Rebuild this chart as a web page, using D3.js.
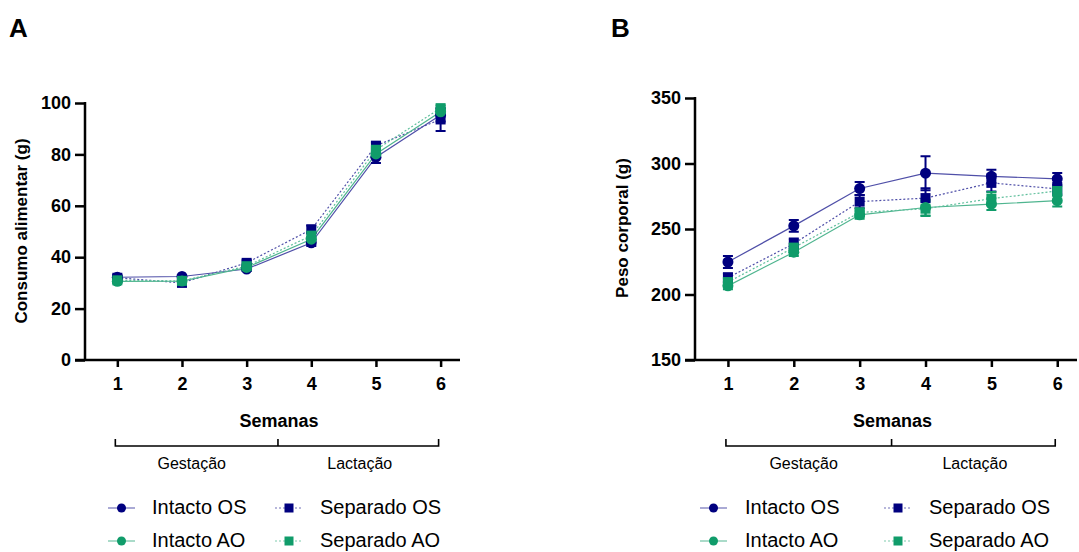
<!DOCTYPE html>
<html>
<head>
<meta charset="utf-8">
<script src="https://cdn.jsdelivr.net/npm/d3@7"></script>
<style>
  body { margin: 0; background: #fff; }
  svg { font-family: "Liberation Sans", Arial, sans-serif; }
</style>
</head>
<body>
<svg width="1079" height="552"></svg>
<script>
const weeks = [1, 2, 3, 4, 5, 6];
const seriesNames = ["Intacto OS", "Separado OS", "Intacto AO", "Separado AO"];

// Consumo alimentar (g): mean and SEM
const consumoIntactoOS = [32.2, 32.5, 35.4, 45.6, 78.9, 95.3];
const consumoIntactoOSErr = [0.8, 0.6, 0.8, 1.2, 2.2, 2.5];
const consumoSeparadoOS = [32.0, 30.0, 37.8, 50.8, 83.4, 93.6];
const consumoSeparadoOSErr = [0.8, 0.8, 1.0, 1.5, 1.2, 4.5];
const consumoIntactoAO = [30.6, 30.7, 36.0, 47.0, 80.2, 96.6];
const consumoIntactoAOErr = [0.6, 0.7, 0.8, 1.0, 1.2, 1.2];
const consumoSeparadoAO = [31.0, 30.8, 36.5, 48.4, 81.8, 98.0];
const consumoSeparadoAOErr = [0.6, 0.7, 0.8, 1.0, 1.2, 1.0];

// Peso corporal (g): mean and SEM
const pesoIntactoOS = [224.8, 252.4, 280.9, 292.6, 290.2, 288.3];
const pesoIntactoOSErr = [4.5, 4.5, 5.0, 13.0, 5.0, 4.5];
const pesoSeparadoOS = [212.8, 238.8, 270.9, 273.6, 285.2, 280.6];
const pesoSeparadoOSErr = [3.5, 4.0, 5.0, 7.5, 6.5, 4.5];
const pesoIntactoAO = [206.6, 232.3, 260.8, 266.4, 269.0, 271.6];
const pesoIntactoAOErr = [2.5, 3.0, 3.0, 6.0, 4.5, 4.5];
const pesoSeparadoAO = [209.5, 235.8, 262.6, 265.5, 273.2, 279.0];
const pesoSeparadoAOErr = [3.0, 3.0, 3.0, 5.5, 5.0, 4.0];

const yTicksA = [0, 20, 40, 60, 80, 100];
const yTicksB = [150, 200, 250, 300, 350];

const navy = "#00007f";
const green = "#109c6a";
const styles = {
  "Intacto OS": { color: navy, line: "#4f4fa8", shape: "circle", dash: null },
  "Separado OS": { color: navy, line: "#4f4fa8", shape: "square", dash: "2,2" },
  "Intacto AO": { color: green, line: "#4fb58f", shape: "circle", dash: null },
  "Separado AO": { color: green, line: "#5fbf9c", shape: "square", dash: "2,2" }
};

const svg = d3.select("svg");

function drawMarker(g, shape, cx, cy, color, size) {
  if (shape === "circle") {
    g.append("circle").attr("cx", cx).attr("cy", cy).attr("r", size / 2).attr("fill", color);
  } else {
    g.append("rect").attr("x", cx - size / 2).attr("y", cy - size / 2)
      .attr("width", size).attr("height", size).attr("fill", color);
  }
}

function drawPanel(p) {
  const x = d3.scaleLinear().domain([0.5, 6.3]).range([p.left, p.right]);
  const y = d3.scaleLinear().domain(p.yDomain).range([360, p.top]);
  const g = svg.append("g");

  g.append("text").attr("x", p.labelX).attr("y", 37)
    .attr("font-size", 26).attr("font-weight", "bold").text(p.label);

  const yAxis = g.append("g").attr("transform", `translate(${p.left},0)`)
    .call(d3.axisLeft(y).tickValues(p.yTicks).tickFormat(d3.format("d"))
      .tickSize(10).tickPadding(4).tickSizeOuter(0));
  const xAxis = g.append("g").attr("transform", "translate(0,360)")
    .call(d3.axisBottom(x).tickValues(weeks).tickFormat(d3.format("d"))
      .tickSize(7).tickPadding(10).tickSizeOuter(0));
  [yAxis, xAxis].forEach(a => {
    a.select(".domain").attr("stroke", "#000").attr("stroke-width", 2.5);
    a.selectAll(".tick line").attr("stroke", "#000").attr("stroke-width", 2.5);
    a.selectAll(".tick text").attr("fill", "#000").attr("font-weight", "bold")
      .attr("font-family", "Liberation Sans, Arial, sans-serif");
  });
  yAxis.select(".domain").attr("d", `M0,${y(p.yDomain[1]) - 1}V360`);
  xAxis.select(".domain").attr("d", `M${p.left - 10},0H${p.right}`);
  yAxis.selectAll(".tick text").attr("font-size", 18);
  xAxis.selectAll(".tick text").attr("font-size", 18);

  g.append("text").attr("transform", `translate(${p.yLabelX},${p.yLabelY}) rotate(-90)`)
    .attr("text-anchor", "middle").attr("font-size", 17).attr("font-weight", "bold")
    .text(p.yLabel);

  g.append("text").attr("x", x(3.5)).attr("y", 427).attr("text-anchor", "middle")
    .attr("font-size", 18).attr("font-weight", "bold").text("Semanas");

  // period bracket
  const bx0 = x(1) - 2, bx1 = x(6) - 2, bm = x(3.5) - 1, by = 446;
  g.append("path")
    .attr("d", `M${bx0},${by - 7}V${by}H${bx1}V${by - 7}M${bm},${by}V${by - 7}`)
    .attr("fill", "none").attr("stroke", "#000").attr("stroke-width", 1.6);
  g.append("text").attr("x", x(2.15)).attr("y", 469).attr("text-anchor", "middle")
    .attr("font-size", 16).text("Gestação");
  g.append("text").attr("x", x(4.75)).attr("y", 469).attr("text-anchor", "middle")
    .attr("font-size", 16).text("Lactação");

  const line = d3.line().x((d, i) => x(weeks[i])).y(d => y(d));
  seriesNames.forEach(name => {
    const s = styles[name];
    g.append("path").datum(p.values[name]).attr("d", line)
      .attr("fill", "none").attr("stroke", s.line).attr("stroke-width", 1.2)
      .attr("stroke-dasharray", s.dash);
  });
  seriesNames.forEach(name => {
    const s = styles[name];
    const vals = p.values[name], errs = p.errors[name];
    vals.forEach((v, i) => {
      const cx = x(weeks[i]);
      const y0 = y(v - errs[i]), y1 = y(v + errs[i]);
      g.append("path")
        .attr("d", `M${cx},${y0}V${y1}M${cx - 5},${y0}H${cx + 5}M${cx - 5},${y1}H${cx + 5}`)
        .attr("stroke", s.color).attr("stroke-width", 2).attr("fill", "none");
    });
  });
  seriesNames.forEach(name => {
    const s = styles[name];
    p.values[name].forEach((v, i) => {
      drawMarker(g, s.shape, x(weeks[i]), y(v), s.color, s.shape === "circle" ? 11 : 10);
    });
  });

  // legend
  const rows = [508, 541];
  const cols = p.legendCols;
  seriesNames.forEach((name, k) => {
    const s = styles[name];
    const col = cols[k % 2 === 0 ? 0 : 1];
    const row = rows[name.includes("AO") ? 1 : 0];
    g.append("line").attr("x1", col.x0).attr("x2", col.x1).attr("y1", row).attr("y2", row)
      .attr("stroke", s.line).attr("stroke-width", 1.2).attr("stroke-dasharray", s.dash)
      .attr("opacity", 0.8);
    drawMarker(g, s.shape, (col.x0 + col.x1) / 2, row, s.color, 9);
    g.append("text").attr("x", col.tx).attr("y", row + 6).attr("font-size", 20).text(name);
  });
}

drawPanel({
  label: "A", labelX: 9, left: 85, right: 460, top: 103, yDomain: [0, 100], yTicks: yTicksA,
  yLabel: "Consumo alimentar (g)", yLabelX: 27, yLabelY: 231,
  values: { "Intacto OS": consumoIntactoOS, "Separado OS": consumoSeparadoOS,
            "Intacto AO": consumoIntactoAO, "Separado AO": consumoSeparadoAO },
  errors: { "Intacto OS": consumoIntactoOSErr, "Separado OS": consumoSeparadoOSErr,
            "Intacto AO": consumoIntactoAOErr, "Separado AO": consumoSeparadoAOErr },
  legendCols: [{ x0: 108, x1: 135, tx: 152 }, { x0: 275, x1: 303, tx: 320 }]
});

drawPanel({
  label: "B", labelX: 611, left: 695, right: 1077, top: 98, yDomain: [150, 350], yTicks: yTicksB,
  yLabel: "Peso corporal (g)", yLabelX: 628, yLabelY: 228,
  values: { "Intacto OS": pesoIntactoOS, "Separado OS": pesoSeparadoOS,
            "Intacto AO": pesoIntactoAO, "Separado AO": pesoSeparadoAO },
  errors: { "Intacto OS": pesoIntactoOSErr, "Separado OS": pesoSeparadoOSErr,
            "Intacto AO": pesoIntactoAOErr, "Separado AO": pesoSeparadoAOErr },
  legendCols: [{ x0: 700, x1: 727, tx: 745 }, { x0: 884, x1: 912, tx: 929 }]
});
</script>
</body>
</html>
